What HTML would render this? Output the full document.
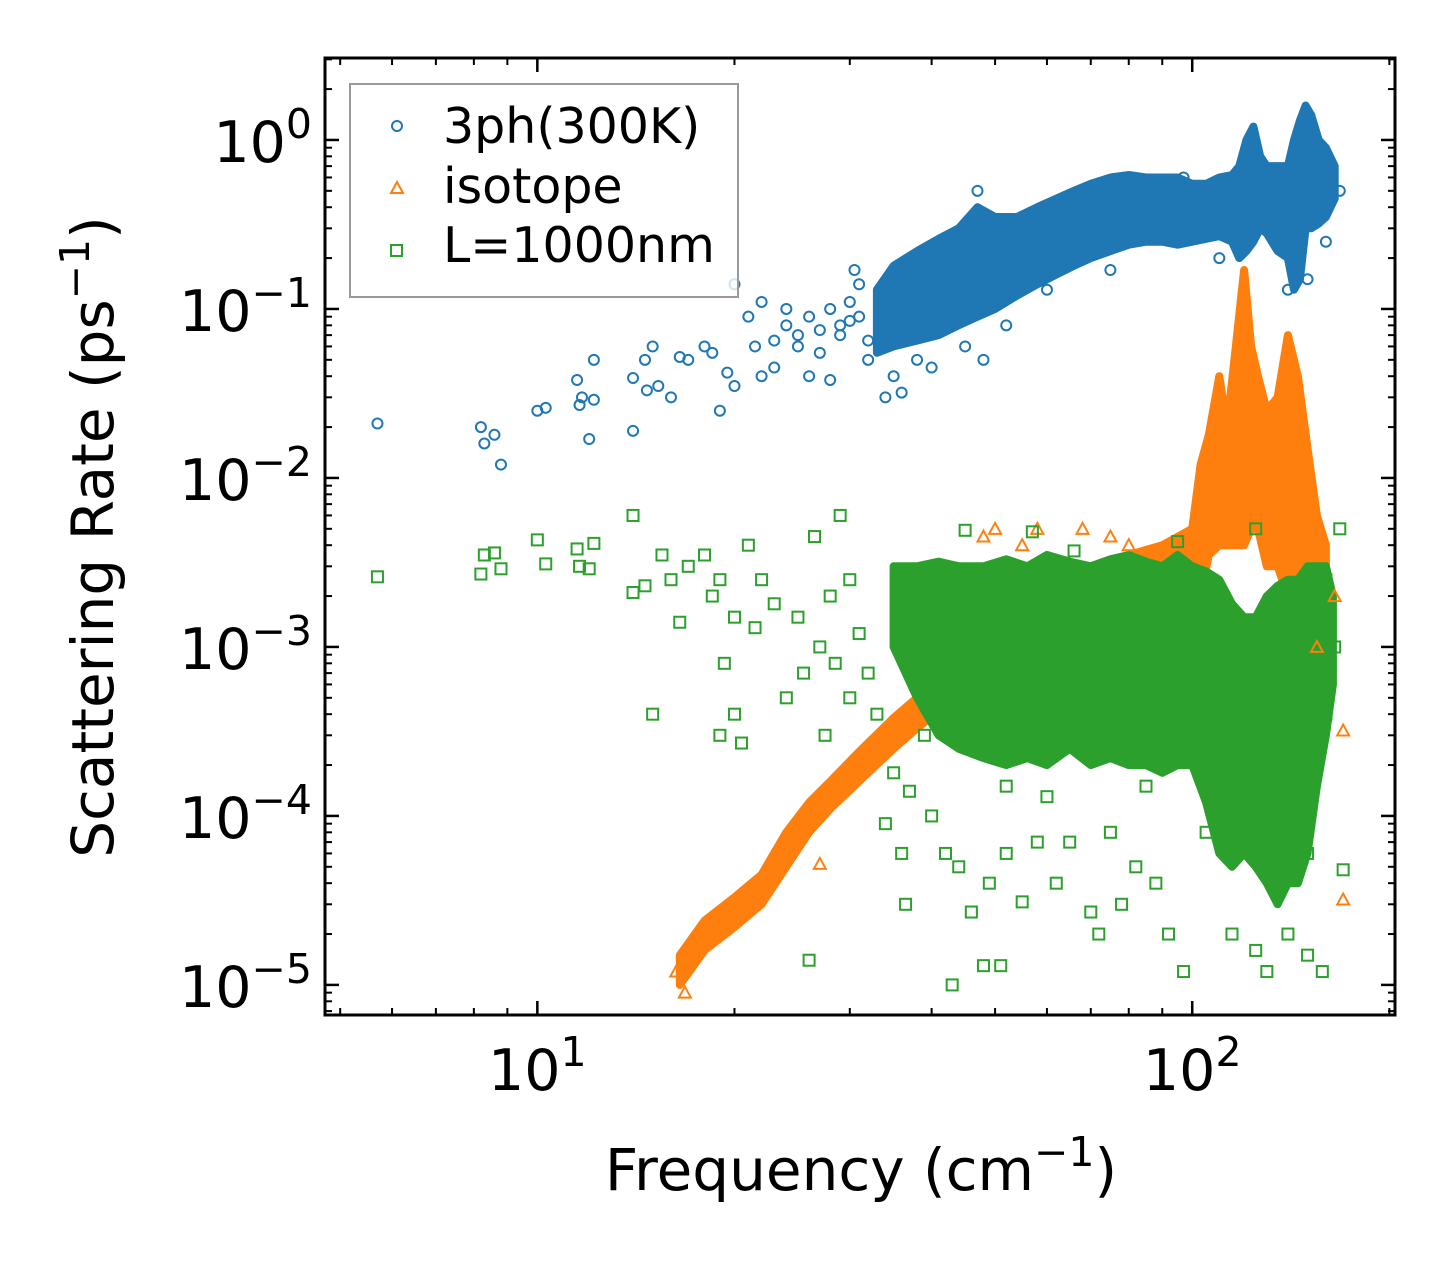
<!DOCTYPE html>
<html><head><meta charset="utf-8"><style>
html,body{margin:0;padding:0;background:#fff;}
svg{display:block;font-family:"DejaVu Sans","Liberation Sans",sans-serif;}
</style></head><body>
<svg id="chart" width="1455" height="1265" viewBox="0 0 1455 1265" xmlns="http://www.w3.org/2000/svg">
<rect width="1455" height="1265" fill="#fff"/>
<g id="bands"></g>
<g id="pts"></g>
<rect x="325" y="58" width="1070" height="957" fill="none" stroke="#000" stroke-width="3"/>
<g id="ticks"></g>
<g id="labels"></g>
<text x="861" y="1190" font-size="58" text-anchor="middle">Frequency (cm<tspan font-size="41" dy="-24">−1</tspan><tspan dy="24">)</tspan></text>
<text transform="translate(113,537) rotate(-90)" font-size="58" text-anchor="middle">Scattering Rate (ps<tspan font-size="41" dy="-24">−1</tspan><tspan dy="24">)</tspan></text>
<g>
<rect x="350" y="84" width="388" height="213" fill="#fff" fill-opacity="0.8" stroke="#999" stroke-width="2"/>
<circle cx="397" cy="126" r="5" fill="none" stroke="#1f77b4" stroke-width="2"/>
<text x="443" y="143" font-size="49">3ph(300K)</text>
<path d="M391,193 L397,182 L403,193 Z" fill="none" stroke="#ff7f0e" stroke-width="2"/>
<text x="443" y="203" font-size="49">isotope</text>
<rect x="391" y="245" width="11" height="11" fill="none" stroke="#2ca02c" stroke-width="2"/>
<text x="443" y="262" font-size="49">L=1000nm</text>
</g>
</svg>
<script>
// ---- data ----
const xTickValues=[10,100];
const xTickLabels=["1","2"];
const yTickValues=[1,0.1,0.01,0.001,0.0001,0.00001];
const yTickLabels=["0","−1","−2","−3","−4","−5"];

const blueBandF=[33,35,38,41,44,47,50,54,58,62,66,70,75,80,85,90,95,100,105,110,115,118,121,124,127,130,135,140,143,146,149,152,156,160,165];
const blueBandLo=[.055,.06,.065,.07,.08,.09,.1,.12,.14,.16,.18,.2,.22,.24,.25,.25,.24,.25,.26,.27,.25,.2,.22,.25,.3,.28,.22,.2,.13,.15,.3,.3,.32,.35,.45];
const blueBandHi=[.13,.18,.22,.26,.3,.4,.35,.35,.4,.45,.5,.55,.6,.62,.6,.6,.6,.55,.55,.6,.62,.7,1.0,1.2,.8,.7,.7,.7,1.0,1.3,1.6,1.4,1.0,.9,.7];
const blueF=[5.7,8.2,8.3,8.6,8.8,10,10.3,11.5,11.6,11.7,12,12.2,12.2,14,14,14.6,14.7,15,15.3,16,16.5,17,18,18.5,19,19.5,20,20,21,21.5,22,23,24,25,26,27,28,29,30,30.5,31,32,34,35,36,38,40,28,26,23,22,24,47,48,97,168,45,52,60,75,110,140,150,160,29,31,32,27,25,30];
const blueR=[0.021,0.02,0.016,0.018,0.012,0.025,0.026,0.038,0.027,0.03,0.017,0.05,0.029,0.039,0.019,0.05,0.033,0.06,0.035,0.03,0.052,0.05,0.06,0.055,0.025,0.042,0.035,0.14,0.09,0.06,0.11,0.045,0.08,0.07,0.09,0.055,0.1,0.08,0.11,0.17,0.14,0.05,0.03,0.04,0.032,0.05,0.045,0.038,0.04,0.065,0.04,0.1,0.5,0.05,0.6,0.5,0.06,0.08,0.13,0.17,0.2,0.13,0.15,0.25,0.07,0.09,0.065,0.075,0.06,0.085];

const orangeBandF=[16.5,18,20,22,24,26,28,31,35,38,41,45,50,55,60,70,80,90,100,103,106,110,113,116,120,123,126,130,135,140,145,150,155,160];
const orangeBandLo=[1e-5,1.6e-5,2.2e-5,3e-5,5e-5,8e-5,1.1e-4,1.6e-4,2.5e-4,3.3e-4,4.2e-4,5e-4,6e-4,6e-4,6e-4,6e-4,6e-4,7e-4,9e-4,2e-3,3.5e-3,4e-3,4e-3,4e-3,4e-3,5e-3,5e-3,3e-3,3e-3,2e-3,2e-3,1.5e-3,1.5e-3,1.5e-3];
const orangeBandHi=[1.5e-5,2.4e-5,3.3e-5,4.5e-5,8e-5,1.2e-4,1.6e-4,2.4e-4,3.8e-4,5e-4,7e-4,1.5e-3,3e-3,3e-3,3e-3,3e-3,3.5e-3,4e-3,5e-3,1.2e-2,1.8e-2,4e-2,2e-2,5e-2,0.17,0.06,0.04,0.025,0.03,0.07,0.04,0.015,0.006,0.004];
const orangeF=[170,170,165,155,27,16.3,17,16.8,48,50,55,58,68,75,80];
const orangeR=[3.2e-4,3.2e-5,2e-3,1e-3,5.2e-5,1.2e-5,1.6e-5,0.9e-5,4.5e-3,5e-3,4e-3,5e-3,5e-3,4.5e-3,4e-3];

const greenBandF=[35,38,41,44,48,52,56,60,65,70,75,80,85,90,95,100,105,110,115,120,125,130,135,140,145,150,155,160,164];
const greenBandLo=[1e-3,5e-4,3e-4,2.5e-4,2.2e-4,2e-4,2.2e-4,2e-4,2.5e-4,2e-4,2.2e-4,2e-4,2e-4,1.8e-4,2e-4,2e-4,1.2e-4,6e-5,5e-5,6e-5,5e-5,4e-5,3e-5,4e-5,4e-5,6e-5,1.5e-4,3e-4,6e-4];
const greenBandHi=[3e-3,3e-3,3.2e-3,3e-3,3e-3,3.3e-3,3e-3,3.5e-3,3.2e-3,3e-3,3.3e-3,3.5e-3,3.2e-3,3e-3,3.5e-3,3e-3,2.8e-3,2.5e-3,1.8e-3,1.5e-3,1.5e-3,2e-3,2.3e-3,2.5e-3,2.5e-3,3e-3,3e-3,3e-3,2e-3];
const greenF=[5.7,8.2,8.3,8.6,8.8,10,10.3,11.5,11.6,12,12.2,14,14,14.6,15,15.5,16,16.5,17,18,18.5,19,19,19.3,20,20.5,20,21,21.5,22,23,24,25,25.5,26,26.5,27,27.5,28,28.5,29,30,30,31,32,33,34,35,36,36.5,37,39,40,42,43,44,46,48,49,51,52,55,58,62,65,70,72,75,78,82,88,92,97,105,115,125,130,140,150,158,160,165,170,168,160,52,60,85,125,45,57,66,95,120,150];
const greenR=[2.6e-3,2.7e-3,3.5e-3,3.6e-3,2.9e-3,4.3e-3,3.1e-3,3.8e-3,3e-3,2.9e-3,4.1e-3,6e-3,2.1e-3,2.3e-3,4e-4,3.5e-3,2.5e-3,1.4e-3,3e-3,3.5e-3,2e-3,2.5e-3,3e-4,8e-4,4e-4,2.7e-4,1.5e-3,4e-3,1.3e-3,2.5e-3,1.8e-3,5e-4,1.5e-3,7e-4,1.4e-5,4.5e-3,1e-3,3e-4,2e-3,8e-4,6e-3,2.5e-3,5e-4,1.2e-3,7e-4,4e-4,9e-5,1.8e-4,6e-5,3e-5,1.4e-4,3e-4,1e-4,6e-5,1e-5,5e-5,2.7e-5,1.3e-5,4e-5,1.3e-5,6e-5,3.1e-5,7e-5,4e-5,7e-5,2.7e-5,2e-5,8e-5,3e-5,5e-5,4e-5,2e-5,1.2e-5,8e-5,2e-5,1.6e-5,1.2e-5,2e-5,1.5e-5,1.2e-5,4e-4,1e-3,4.8e-5,5e-3,2.5e-3,1.5e-4,1.3e-4,1.5e-4,5e-3,4.9e-3,4.8e-3,3.7e-3,4.2e-3,1.2e-4,6e-5];

// ---- axes ----
const X0=325,X1=1395,Y0=58,Y1=1015;
const lxMin=Math.log10(4.74),lxMax=Math.log10(204);
const lyMin=-5.178,lyMax=0.485;
function sx(v){return X0+(Math.log10(v)-lxMin)/(lxMax-lxMin)*(X1-X0);}
function sy(v){return Y1-(Math.log10(v)-lyMin)/(lyMax-lyMin)*(Y1-Y0);}
const NS="http://www.w3.org/2000/svg";
function mk(tag,attrs,parent){const e=document.createElementNS(NS,tag);for(const k in attrs)e.setAttribute(k,attrs[k]);parent.appendChild(e);return e;}

const bands=document.getElementById('bands');
function band(F,Lo,Hi,color,name){
  let d="M"+F.map((f,i)=>sx(f).toFixed(1)+","+sy(Hi[i]).toFixed(1)).join(" L");
  for(let i=F.length-1;i>=0;i--)d+=" L"+sx(F[i]).toFixed(1)+","+sy(Lo[i]).toFixed(1);
  d+=" Z";
  const p=mk('path',{d:d,fill:color,stroke:color,'stroke-width':8,'stroke-linejoin':'round'},bands);
  
  
}
const pts=document.getElementById('pts');
function scatter(F,R,kind,color,name){
  F.forEach((f,i)=>{
    const x=sx(f),y=sy(R[i]);let e;
    if(kind==='c')e=mk('circle',{cx:x,cy:y,r:5,fill:'none',stroke:color,'stroke-width':2},pts);
    else if(kind==='t')e=mk('path',{d:`M${x-6},${y+5} L${x},${y-6} L${x+6},${y+5} Z`,fill:'none',stroke:color,'stroke-width':2},pts);
    else e=mk('rect',{x:x-5.5,y:y-5.5,width:11,height:11,fill:'none',stroke:color,'stroke-width':2},pts);
    
    
  });
}
band(blueBandF,blueBandLo,blueBandHi,'#1f77b4','band-3ph');
scatter(blueF,blueR,'c','#1f77b4','point-3ph');
band(orangeBandF,orangeBandLo,orangeBandHi,'#ff7f0e','band-isotope');
scatter(orangeF,orangeR,'t','#ff7f0e','point-isotope');
band(greenBandF,greenBandLo,greenBandHi,'#2ca02c','band-boundary');
scatter(greenF,greenR,'s','#2ca02c','point-boundary');

// ticks
const tk=document.getElementById('ticks');
function tick(x1,y1,x2,y2,w,name){const l=mk('line',{x1,y1,x2,y2,stroke:'#000','stroke-width':w},tk);}
for(let d=0;d<=2;d++){for(let m=1;m<=9;m++){const v=m*Math.pow(10,d);if(v<4.74||v>204)continue;const x=sx(v);const L=m===1?14:7,w=m===1?2.5:2;
  tick(x,Y1,x,Y1-L,w,'x-tick');tick(x,Y0,x,Y0+L,w,'x-tick-top');}}
for(let d=-6;d<=0;d++){for(let m=1;m<=9;m++){const v=m*Math.pow(10,d);const lv=Math.log10(v);if(lv<lyMin||lv>lyMax)continue;const y=sy(v);const L=m===1?14:7,w=m===1?2.5:2;
  tick(X0,y,X0+L,y,w,'y-tick');tick(X1,y,X1-L,y,w,'y-tick-right');}}
const lb=document.getElementById('labels');
xTickValues.forEach((v,i)=>{const t=mk('text',{x:sx(v),y:1090,'font-size':57,'text-anchor':'middle'},lb);t.innerHTML='10<tspan font-size="41" dy="-24">'+xTickLabels[i]+'</tspan>';});
yTickValues.forEach((v,i)=>{const t=mk('text',{x:312,y:sy(v)+22,'font-size':57,'text-anchor':'end'},lb);t.innerHTML='10<tspan font-size="41" dy="-24">'+yTickLabels[i]+'</tspan>';});
</script>
</body></html>
